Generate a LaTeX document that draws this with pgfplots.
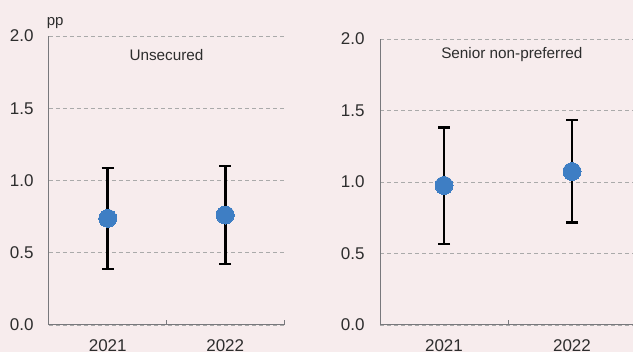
\documentclass[border=0pt]{standalone}
\usepackage{pgfplots}
\pgfplotsset{compat=1.18}
\usepackage{fontspec}
\setmainfont{Liberation Sans}
\definecolor{bg}{RGB}{247,236,237}
\definecolor{dot}{RGB}{62,126,196}
\definecolor{axg}{RGB}{120,120,124}
\definecolor{txt}{RGB}{45,45,45}
\definecolor{gridc}{RGB}{170,170,170}
\pgfplotsset{
  mystyle/.style={
    scale only axis,
    anchor=south west,
    xmin=0, xmax=2, ymin=0, ymax=2,
    axis x line*=bottom, axis y line*=left,
    axis line style={axg, line width=1pt},
    xtick={1,2}, xticklabels={},
    major tick length=5pt,
    tick style={axg, line width=0.8pt},
    xtick align=inside,
    extra x ticks={0.5,1.5},
    extra x tick labels={2021,2022},
    extra x tick style={major tick length=0pt, grid=none},
    ytick={0,0.5,1,1.5,2},
    yticklabels={0.0,0.5,1.0,1.5,2.0},
    ytick style={draw=none},
    ymajorgrids,
    grid style={gridc, line width=0.8pt, dash pattern=on 4pt off 3pt},
    tick label style={font=\fontsize{17}{19}\selectfont, text=txt},
    yticklabel style={xshift=-12pt},
    xticklabel style={yshift=-11pt},
    clip=false,
  },
  errbars/.style={
    only marks, mark=none,
    error bars/.cd, y dir=both, y explicit,
      error bar style={black, line width=2.9pt},
      error mark options={black, line width=2.4pt, mark size=6pt, rotate=90},
  },
  dots/.style={only marks, mark=*, mark size=9pt, color=dot, mark options={fill=dot, draw=dot, line width=0pt}},
}
\begin{document}
\begin{tikzpicture}
\useasboundingbox (0pt,0pt) rectangle (633pt,352pt);
\fill[bg] (0pt,0pt) rectangle (633pt,352pt);
\clip (0pt,0pt) rectangle (633pt,352pt);
\begin{axis}[mystyle, at={(49pt,27pt)}, width=235pt, height=289pt]
\addplot[errbars]
  coordinates {(0.5,0.738) += (0,0.349) -= (0,0.350) (1.5,0.761) += (0,0.339) -= (0,0.339)};
\addplot[dots] coordinates {(0.5,0.738) (1.5,0.761)};
\node[font=\fontsize{15.3}{17}\selectfont, text=txt] at (axis cs:1,1.87) {Unsecured};
\node[font=\fontsize{15}{17}\selectfont, text=txt, anchor=south west, inner sep=0pt] at (axis cs:-0.02,2.05) {pp};
\end{axis}
\begin{axis}[mystyle, at={(380pt,27pt)}, width=256pt, height=286pt]
\addplot[errbars]
  coordinates {(0.5,0.976) += (0,0.404) -= (0,0.411) (1.5,1.073) += (0,0.362) -= (0,0.357)};
\addplot[dots] coordinates {(0.5,0.976) (1.5,1.073)};
\node[font=\fontsize{15.3}{17}\selectfont, text=txt] at (axis cs:1.03,1.89) {Senior non-preferred};
\end{axis}
\end{tikzpicture}
\end{document}
